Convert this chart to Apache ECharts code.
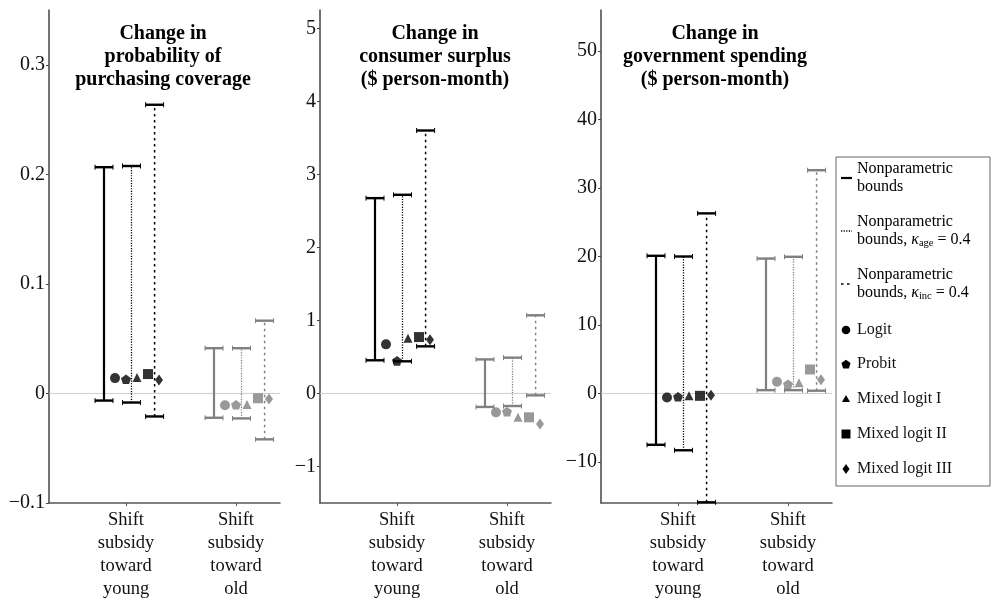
<!DOCTYPE html>
<html>
<head>
<meta charset="utf-8">
<script src="https://cdn.jsdelivr.net/npm/echarts@6/dist/echarts.min.js"></script>
<style>html,body{margin:0;padding:0;background:#fff;}#c{width:994px;height:601px;}</style>
</head>
<body>
<div id="c"></div>
<script>
// ---------- DATA ----------
const categories = ['Shift\nsubsidy\ntoward\nyoung', 'Shift\nsubsidy\ntoward\nold'];
const panelTitles = ['Change in\nprobability of\npurchasing coverage', 'Change in\nconsumer surplus\n($ person-month)', 'Change in\ngovernment spending\n($ person-month)'];
const modelNames = ['Logit', 'Probit', 'Mixed logit I', 'Mixed logit II', 'Mixed logit III'];

// bounds rows: [lower, upper] for: nonparametric, kappa_age = 0.4, kappa_inc = 0.4
const probBoundsYoung = [[-0.0065, 0.2065], [-0.0083, 0.2076], [-0.0210, 0.2635]];
const probBoundsOld = [[-0.0222, 0.0413], [-0.0228, 0.0413], [-0.0419, 0.0664]];
const probModelsYoung = [0.0140, 0.0129, 0.0145, 0.0177, 0.0122];
const probModelsOld = [-0.0107, -0.0104, -0.0101, -0.0044, -0.0050];

const csBoundsYoung = [[0.454, 2.674], [0.440, 2.720], [0.645, 3.600]];
const csBoundsOld = [[-0.185, 0.466], [-0.172, 0.490], [-0.026, 1.070]];
const csModelsYoung = [0.672, 0.446, 0.755, 0.772, 0.735];
const csModelsOld = [-0.259, -0.250, -0.327, -0.327, -0.418];

const govBoundsYoung = [[-7.5, 20.1], [-8.3, 20.0], [-15.9, 26.3]];
const govBoundsOld = [[0.48, 19.7], [0.48, 19.96], [0.40, 32.6]];
const govModelsYoung = [-0.6, -0.5, -0.35, -0.35, -0.25];
const govModelsOld = [1.7, 1.35, 1.55, 3.5, 2.0];

const yTicksProb = [-0.1, 0, 0.1, 0.2, 0.3];
const yTicksCs = [-1, 0, 1, 2, 3, 4, 5];
const yTicksGov = [-10, 0, 10, 20, 30, 40, 50];

// ---------- LAYOUT / STYLE ----------
const panels = [
  {bY: probBoundsYoung, bO: probBoundsOld, mY: probModelsYoung, mO: probModelsOld, ticks: yTicksProb, min: -0.1, max: 0.35, left: 49, tx: 158},
  {bY: csBoundsYoung, bO: csBoundsOld, mY: csModelsYoung, mO: csModelsOld, ticks: yTicksCs, min: -1.5, max: 5.25, left: 320, tx: 430},
  {bY: govBoundsYoung, bO: govBoundsOld, mY: govModelsYoung, mO: govModelsOld, ticks: yTicksGov, min: -16, max: 56, left: 601, tx: 710}
];
const SERIF = '"Liberation Serif", "DejaVu Serif", serif';
const BLACK = '#000000', GRAY = '#808080';
const boundOffsets = [-0.2, 0.05, 0.26];
const modelOffsets = [-0.1, 0.0, 0.1, 0.2, 0.3];
const boundStyles = [
  {lineWidth: 2.2},
  {lineWidth: 1.3, lineDash: [1.2, 1.4]},
  {lineWidth: 1.5, lineDash: [2.5, 3.5]}
];
const pentPath = 'path://M0,-10 L9.51,-3.09 L5.88,8.09 L-5.88,8.09 L-9.51,-3.09 Z';
const modelSymbols = [
  {symbol: 'circle', size: 10},
  {symbol: pentPath, size: 10},
  {symbol: 'triangle', size: 9},
  {symbol: 'rect', size: 10},
  {symbol: 'diamond', size: [8, 11]}
];
const fmtMinus = v => (v === 0 ? '0' : String(v).replace('-', '\u2212'));

function renderBound(params, api) {
  const cat = api.value(0), b = api.value(1);
  const x = cat + boundOffsets[b];
  const p1 = api.coord([x, api.value(2)]);
  const p2 = api.coord([x, api.value(3)]);
  const color = cat === 1 ? BLACK : GRAY;
  const hw = 9;
  const children = [{
    type: 'line', shape: {x1: p1[0], y1: p1[1], x2: p2[0], y2: p2[1]},
    style: Object.assign({stroke: color, fill: null}, boundStyles[b])
  }];
  [p1, p2].forEach(p => {
    children.push({type: 'line', shape: {x1: p[0] - hw, y1: p[1], x2: p[0] + hw, y2: p[1]}, style: {stroke: color, lineWidth: 2.4}});
    children.push({type: 'line', shape: {x1: p[0] - hw, y1: p[1] - 2.5, x2: p[0] - hw, y2: p[1] + 2.5}, style: {stroke: color, lineWidth: 1}});
    children.push({type: 'line', shape: {x1: p[0] + hw, y1: p[1] - 2.5, x2: p[0] + hw, y2: p[1] + 2.5}, style: {stroke: color, lineWidth: 1}});
  });
  return {type: 'group', children};
}

const grid = [], xAxis = [], yAxis = [], series = [], title = [];
panels.forEach((P, i) => {
  grid.push({left: P.left, top: 10, width: 231, height: 496});
  title.push({
    text: panelTitles[i], left: P.tx, top: 17, textAlign: 'center',
    textStyle: {fontFamily: SERIF, fontWeight: 'bold', fontSize: 20, lineHeight: 23, color: '#000'}
  });
  xAxis.push({
    type: 'value', gridIndex: i, min: 0.3, max: 2.4,
    axisLine: {onZero: false, lineStyle: {color: '#555', width: 1.5}},
    axisTick: {customValues: [1, 2], length: 3, lineStyle: {color: '#555'}},
    axisLabel: {customValues: [1, 2], formatter: v => categories[Math.round(v) - 1], fontFamily: SERIF, fontSize: 18.5, lineHeight: 23, color: '#111', margin: 6},
    splitLine: {show: false}
  });
  yAxis.push({
    type: 'value', gridIndex: i, min: P.min, max: P.max,
    axisLine: {show: true, onZero: false, lineStyle: {color: '#444', width: 1.5}},
    axisTick: {show: true, customValues: P.ticks, length: 3, lineStyle: {color: '#444'}},
    axisLabel: {customValues: P.ticks, formatter: fmtMinus, fontFamily: SERIF, fontSize: 20, color: '#111', margin: 4},
    splitLine: {show: false}
  });
  // zero reference line
  series.push({
    type: 'line', xAxisIndex: i, yAxisIndex: i, data: [[0.3, 0], [2.4, 0]], symbol: 'none', silent: true, z: 1,
    lineStyle: {color: '#cfcfcf', width: 1}
  });
  // bounds
  const rows = [];
  P.bY.forEach((b, k) => rows.push([1, k, b[0], b[1]]));
  P.bO.forEach((b, k) => rows.push([2, k, b[0], b[1]]));
  series.push({
    type: 'custom', xAxisIndex: i, yAxisIndex: i, data: rows, renderItem: renderBound,
    encode: {x: 0, y: [2, 3]}, z: 3, silent: true, clip: false
  });
  // model point estimates
  modelNames.forEach((m, k) => {
    series.push({
      type: 'scatter', name: m, xAxisIndex: i, yAxisIndex: i, z: 4, silent: true,
      symbol: modelSymbols[k].symbol, symbolSize: modelSymbols[k].size, symbolKeepAspect: true,
      data: [
        {value: [1 + modelOffsets[k], P.mY[k]], itemStyle: {color: BLACK}},
        {value: [2 + modelOffsets[k], P.mO[k]], itemStyle: {color: GRAY}}
      ]
    });
  });
});

// ---------- LEGEND (drawn as graphic) ----------
const LX = 836, LY = 157, LW = 154, LH = 329;
const legendFont = {fontFamily: SERIF, fontSize: 16, fill: '#111'};
const rich = {
  a: {fontFamily: SERIF, fontSize: 16, color: '#111', lineHeight: 18},
  k: {fontFamily: SERIF, fontSize: 16, fontStyle: 'italic', color: '#111', lineHeight: 18},
  s: {fontFamily: SERIF, fontSize: 10.5, color: '#111', verticalAlign: 'bottom', lineHeight: 18}
};
const legendEls = [{type: 'rect', shape: {x: LX, y: LY, width: LW, height: LH}, style: {fill: '#fff', stroke: '#666', lineWidth: 1}, z: 10}];
const lineItems = [
  {y: 178, text: '{a|Nonparametric}\n{a|bounds}'},
  {y: 231, text: '{a|Nonparametric}\n{a|bounds, }{k|κ}{s|age}{a| = 0.4}'},
  {y: 284, text: '{a|Nonparametric}\n{a|bounds, }{k|κ}{s|inc}{a| = 0.4}'}
];
lineItems.forEach((it, b) => {
  legendEls.push({type: 'line', shape: {x1: 841, y1: it.y, x2: 852, y2: it.y}, style: Object.assign({stroke: BLACK}, boundStyles[b]), z: 11});
  legendEls.push({type: 'text', x: 857, y: it.y, z: 11, style: {text: it.text, rich, verticalAlign: 'middle', align: 'left'}});
});
const my = [330, 364, 399, 434, 469];
const sx = 846;
const pent = [];
for (let j = 0; j < 5; j++) { const a = -Math.PI / 2 + j * 2 * Math.PI / 5; pent.push([sx + 4.8 * Math.cos(a), my[1] + 4.8 * Math.sin(a) + 0.5]); }
legendEls.push({type: 'circle', shape: {cx: sx, cy: my[0], r: 4.3}, style: {fill: BLACK}, z: 11});
legendEls.push({type: 'polygon', shape: {points: pent}, style: {fill: BLACK}, z: 11});
legendEls.push({type: 'polygon', shape: {points: [[sx, my[2] - 4], [sx + 4, my[2] + 3], [sx - 4, my[2] + 3]]}, style: {fill: BLACK}, z: 11});
legendEls.push({type: 'rect', shape: {x: sx - 4.5, y: my[3] - 4.5, width: 9, height: 9}, style: {fill: BLACK}, z: 11});
legendEls.push({type: 'polygon', shape: {points: [[sx, my[4] - 5], [sx + 3.5, my[4]], [sx, my[4] + 5], [sx - 3.5, my[4]]]}, style: {fill: BLACK}, z: 11});
modelNames.forEach((m, k) => {
  legendEls.push({type: 'text', x: 857, y: my[k], z: 11, style: Object.assign({text: m, verticalAlign: 'middle', align: 'left'}, legendFont)});
});

const chart = echarts.init(document.getElementById('c'), null, {renderer: 'canvas'});
chart.setOption({
  animation: false,
  backgroundColor: '#fff',
  title, grid, xAxis, yAxis, series,
  graphic: legendEls
});
</script>
</body>
</html>
